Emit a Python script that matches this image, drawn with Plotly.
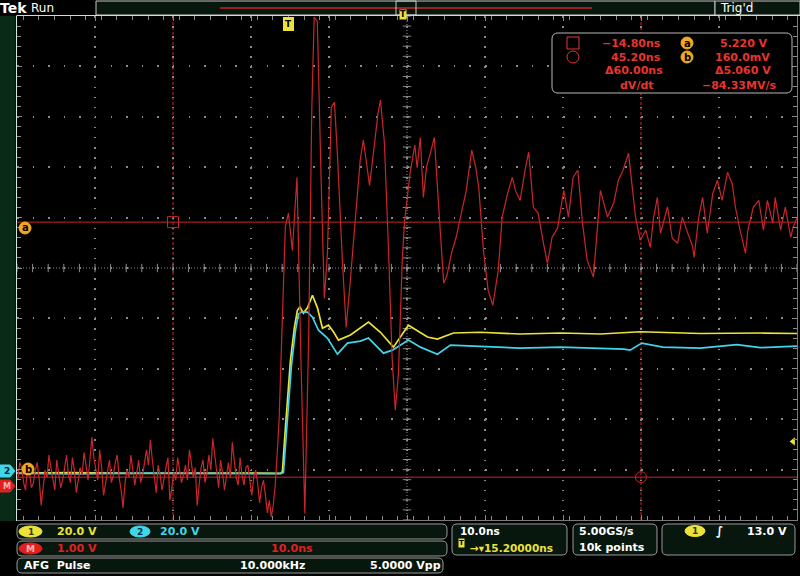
import numpy as np
import plotly.graph_objects as go

FONT = "DejaVu Sans"

# scope settings
ns_per_div = 10.0
trig_delay = 15.2      # ns, trigger -> screen centre
ch_scale = 20.0        # V/div, ch1 and ch2
m_scale = 1.0          # V/div, math
ch_offset = -4.09      # div, ground of ch1/ch2
m_offset = -4.31       # div, ground of M
trig_level = 13.0      # V on ch1

# math (red) trace, volts
red_pre_t0 = -34.7
red_pre_step = 0.25
red_pre_v = [0.10, 0.45, 0.35, 0.05, -0.10, 0.40, 0.25, -0.05, 0.05, 0.30,
             0.45, 0.10, -0.40, -0.05, 0.30, 0.15, 0.60, 0.35, 0.15, -0.10,
             0.50, 0.25, -0.05, 0.10, 0.40, 0.60, 0.20, 0.05, 0.55, 0.30,
             -0.15, 0.10, 0.35, 0.20, 0.65, 0.40, 0.10, 0.50, 0.95, 0.55,
             0.30, 0.10, 0.70, 0.35, -0.20, 0.05, 0.25, 0.50, 0.05, 0.20,
             0.45, 0.60, 0.15, -0.10, -0.45, 0.05, 0.30, 0.15, 0.60, 0.30,
             0.00, 0.25, 0.50, 0.05, 0.20, 0.45, 0.70, 0.40, 0.90, 0.50,
             0.10, -0.15, 0.40, 0.20, -0.10, 0.15, 0.35, 0.55, -0.30, -0.05,
             0.25, 0.10, 0.55, 0.30, 0.05, 0.20, 0.40, 0.10, 0.70, 0.45,
             0.15, 0.35, -0.40, 0.00, 0.35, 0.50, 0.05, 0.25, 0.60, 0.30,
             0.93, 0.60, 0.20, -0.05, 0.50, 0.25, -0.10, 0.20, 0.45, 0.15,
             0.85, 0.50, 0.15, 0.00, 0.55, 0.20, 0.00, 0.35, 0.40, 0.10,
             -0.20, 0.15, 0.30, 0.05, -0.35, -0.05, 0.10, -0.20, -0.55, -0.30,
             -0.63, -0.40, 0.00, 0.60, 1.30]
red_t = [-0.4, 0.0, 0.5, 1.1, 1.6, 2.1, 2.6, 3.0, 3.3, 3.7, 4.2, 4.6, 5.0, 5.5,
         5.9, 6.3, 6.9, 7.4, 7.9, 8.5, 9.2, 9.6, 10.1, 10.4, 10.9, 11.5, 11.8,
         12.3, 12.8, 13.3, 13.7, 14.1, 14.6, 14.9, 15.6, 16.2, 16.5, 16.9, 17.3,
         17.7, 18.3, 18.7, 19.4, 19.9, 20.3, 20.9, 21.5, 22.2, 22.8, 23.5, 24.0,
         24.4, 25.0, 25.6, 26.2, 26.9, 27.4, 28.1, 28.7, 29.1, 29.7, 30.4, 30.8,
         31.4, 32.0, 32.7, 33.2, 33.8, 34.5, 35.3, 35.9, 36.5, 37.1, 37.7, 38.3,
         39.1, 39.7, 40.0, 40.9, 41.7, 42.3, 42.9, 43.6, 44.1, 44.5, 45.1, 45.8,
         46.4, 46.8, 47.3, 47.7, 48.6, 49.2, 49.9, 50.5, 51.2, 51.8, 52.0, 52.6,
         53.1, 53.7, 54.4, 55.0, 55.6, 56.3, 56.9, 57.3, 57.9, 58.6, 58.9, 59.6,
         60.3, 60.9, 61.4, 62.1, 62.4, 63.1, 63.7, 64.4, 64.7, 65.2]
red_v = [5.12, 5.40, 4.66, 6.11, 2.50, -0.56, 3.00, 7.50, 9.29, 9.20, 6.00, 3.71,
         4.60, 7.50, 7.60, 6.50, 4.50, 3.13, 4.00, 5.20, 6.45, 6.85, 6.30, 5.95,
         6.60, 7.40, 7.64, 6.80, 4.80, 2.50, 1.49, 2.20, 4.50, 5.26, 6.20, 6.75,
         6.30, 6.90, 5.71, 6.31, 6.65, 6.90, 5.20, 4.01, 4.15, 4.60, 4.92, 5.46,
         5.85, 6.65, 6.31, 5.91, 4.66, 3.87, 3.57, 4.27, 5.32, 5.79, 6.11, 5.85,
         5.65, 6.31, 6.61, 5.52, 5.40, 4.80, 4.40, 4.92, 5.10, 5.85, 5.32, 6.11,
         6.25, 5.20, 4.46, 4.13, 5.26, 5.85, 5.32, 5.60, 6.05, 6.25, 6.59, 5.91,
         5.32, 4.86, 5.06, 4.72, 5.30, 5.71, 5.00, 5.52, 4.90, 4.80, 5.32, 5.00,
         4.75, 4.52, 5.32, 5.71, 5.00, 5.79, 6.05, 5.65, 6.21, 5.98, 5.52, 5.06,
         4.60, 5.06, 5.52, 5.65, 5.06, 5.65, 5.20, 5.71, 5.06, 5.52, 4.92, 5.12,
         5.30]

# channel 1 (yellow), volts
ch1_t = [-34.8, -28.0, -20.0, -12.0, -5.0, -1.0, -0.77, -0.38, 0.26, 0.77, 1.15,
         1.47, 1.92, 2.44, 3.08, 3.72, 4.36, 5.13, 5.77, 6.41, 7.95, 10.26, 11.79,
         13.46, 15.38, 17.82, 19.1, 21.15, 24.6, 29.7, 34.9, 40.0, 45.1, 52.8,
         60.5, 65.2]
ch1_v = [0.4, 0.6, 0.3, 0.5, 0.4, 0.3, 1.0, 18.7, 45.2, 58.3, 65.0, 66.3, 63.9,
         66.0, 71.0, 66.0, 57.9, 59.1, 56.5, 53.2, 55.2, 60.3, 56.3, 50.4, 59.1,
         54.4, 53.6, 56.0, 56.3, 55.6, 56.0, 55.6, 56.5, 55.8, 56.0, 55.8]

# channel 2 (cyan), volts
ch2_t = [-34.8, -27.0, -19.0, -11.0, -4.0, -1.0, -0.64, -0.26, 0.38, 0.90, 1.28,
         1.67, 2.44, 3.08, 3.85, 4.99, 6.28, 7.56, 9.23, 10.26, 12.18, 13.33,
         15.38, 16.92, 19.1, 20.77, 24.6, 29.7, 34.9, 43.0, 43.8, 45.3, 48.0,
         52.8, 57.5, 60.5, 65.2]
ch2_v = [0.3, 0.1, 0.4, 0.2, 0.3, 0.2, 0.6, 16.0, 43.0, 57.0, 63.5, 64.3, 64.3,
         62.3, 57.1, 54.0, 47.6, 52.0, 52.8, 54.0, 48.0, 49.2, 53.2, 50.4, 47.6,
         51.2, 50.6, 50.0, 50.4, 49.6, 49.2, 52.0, 50.4, 50.0, 51.4, 50.2, 50.8]

# cursors
cursor_t = [-14.80, 45.20]
cursor_v = [5.220, 0.160]

RED = "#c8262a"
RED_TXT = "#e8342e"
YEL = "#ece23a"
CYA = "#3fd6ea"
GRID = "#8a8a8a"
ORANGE = "#f2a825"
BOXFILL = "#08170e"
BOXLINE = "#9a9a9a"

x0 = trig_delay - 5 * ns_per_div
x1 = trig_delay + 5 * ns_per_div


def px(x):
    return (x - 17) / 780


def py(y):
    return (520 - y) / 504


shapes = []
annotations = []


def rbox(xa, ya, xb, yb, line=BOXLINE, fill=BOXFILL, r=5, layer="above"):
    rx = r / 780
    ry = r / 504
    a, b = px(xa), px(xb)
    top, bot = py(ya), py(yb)
    path = (f"M {a + rx},{top} L {b - rx},{top} Q {b},{top} {b},{top - ry} "
            f"L {b},{bot + ry} Q {b},{bot} {b - rx},{bot} L {a + rx},{bot} "
            f"Q {a},{bot} {a},{bot + ry} L {a},{top - ry} Q {a},{top} {a + rx},{top} Z")
    shapes.append(dict(type="path", xref="paper", yref="paper", path=path,
                       line=dict(color=line, width=1), fillcolor=fill, layer=layer))


def text(x, y, s, color, size=11, anchor="left", bold=False):
    if bold:
        s = f"<b>{s}</b>"
    annotations.append(dict(xref="paper", yref="paper", x=px(x), y=py(y), text=s,
                            showarrow=False, xanchor=anchor, yanchor="middle",
                            font=dict(color=color, size=size, family=FONT)))


def pill(xa, xb, yc, h, fill, label, fc, size=9):
    shapes.append(dict(type="circle", xref="paper", yref="paper",
                       x0=px(xa), x1=px(xb), y0=py(yc + h / 2), y1=py(yc - h / 2),
                       line=dict(color=fill, width=1), fillcolor=fill, layer="above"))
    text((xa + xb) / 2, yc, label, fc, size=size, anchor="center", bold=True)


fig = go.Figure()

# graticule centre ticks
centre_x = trig_delay + ns_per_div / 5 * np.arange(-25, 26)
centre_y = 0.2 * np.arange(-25, 26)
fig.add_trace(go.Scatter(x=centre_x, y=np.zeros_like(centre_x), mode="markers",
                         marker=dict(symbol="line-ns-open", size=6, color=GRID,
                                     line=dict(width=1, color=GRID)),
                         hoverinfo="skip"))
fig.add_trace(go.Scatter(x=np.full_like(centre_y, trig_delay), y=centre_y, mode="markers",
                         marker=dict(symbol="line-ew-open", size=6, color=GRID,
                                     line=dict(width=1, color=GRID)),
                         hoverinfo="skip"))

# waveforms
fig.add_trace(go.Scatter(x=ch1_t, y=ch_offset + np.array(ch1_v) / ch_scale, mode="lines",
                         line=dict(color=YEL, width=1.7), hoverinfo="skip"))
fig.add_trace(go.Scatter(x=ch2_t, y=ch_offset + np.array(ch2_v) / ch_scale, mode="lines",
                         line=dict(color=CYA, width=1.7), hoverinfo="skip"))
red_all_t = np.concatenate([red_pre_t0 + red_pre_step * np.arange(len(red_pre_v)), red_t])
red_all_v = np.concatenate([red_pre_v, red_v])
fig.add_trace(go.Scatter(x=red_all_t, y=m_offset + red_all_v / m_scale, mode="lines",
                         line=dict(color=RED, width=1.2), hoverinfo="skip"))

# cursors
cur_y = [m_offset + v / m_scale for v in cursor_v]
for t in cursor_t:
    shapes.append(dict(type="line", xref="x", yref="paper", x0=t, x1=t, y0=0, y1=1,
                       line=dict(color=RED, width=1, dash="3px,2px"), layer="below"))
for yv in cur_y:
    shapes.append(dict(type="line", xref="paper", yref="y", x0=0, x1=1, y0=yv, y1=yv,
                       line=dict(color=RED, width=1), layer="below"))
fig.add_trace(go.Scatter(x=cursor_t, y=cur_y, mode="markers",
                         marker=dict(symbol=["square-open", "circle-open"], size=11,
                                     color=RED, line=dict(width=1, color=RED)),
                         hoverinfo="skip"))

# centre crosshair
shapes.append(dict(type="line", xref="x", yref="paper", x0=trig_delay, x1=trig_delay,
                   y0=0, y1=1, line=dict(color=GRID, width=1, dash="1px,2px"), layer="below"))
shapes.append(dict(type="line", xref="paper", yref="y", x0=0, x1=1, y0=0, y1=0,
                   line=dict(color=GRID, width=1, dash="1px,2px"), layer="below"))

# trigger level arrow on right edge, T marker at top
fig.add_trace(go.Scatter(x=[x1 - 0.5], y=[ch_offset + trig_level / ch_scale], mode="markers",
                         marker=dict(symbol="triangle-left", size=7, color=YEL),
                         cliponaxis=False, hoverinfo="skip"))
annotations.append(dict(x=0, y=4.84, xref="x", yref="y", text="<b>T</b>", showarrow=False,
                        font=dict(color="#000000", size=9, family=FONT), bgcolor=YEL,
                        borderpad=1, bordercolor=YEL))

# left strip and channel tags
shapes.append(dict(type="rect", xref="paper", yref="paper", x0=px(0), x1=px(15.5),
                   y0=py(521), y1=py(16), fillcolor="#0a2a18", line=dict(width=0), layer="above"))
shapes.append(dict(type="line", xref="paper", yref="paper", x0=px(16.5), x1=px(16.5),
                   y0=py(521), y1=py(16), line=dict(color="#cfe8e0", width=1), layer="above"))
tag2 = f"M {px(0)},{py(465)} L {px(10)},{py(465)} L {px(15)},{py(471)} L {px(10)},{py(477)} L {px(0)},{py(477)} Z"
tagm = f"M {px(0)},{py(480)} L {px(10)},{py(480)} L {px(15)},{py(486)} L {px(10)},{py(492)} L {px(0)},{py(492)} Z"
shapes.append(dict(type="path", xref="paper", yref="paper", path=tag2, fillcolor=CYA,
                   line=dict(color=CYA, width=1), layer="above"))
shapes.append(dict(type="path", xref="paper", yref="paper", path=tagm, fillcolor="#e02020",
                   line=dict(color="#e02020", width=1), layer="above"))
text(7, 471, "2", "#002030", size=9, anchor="center", bold=True)
text(7, 486, "M", "#ffb0b0", size=8, anchor="center", bold=True)
pill(19, 31, 228, 12, ORANGE, "a", "#000000", size=10)
pill(22, 34, 469, 12, ORANGE, "b", "#000000", size=10)

# top bar
shapes.append(dict(type="rect", xref="paper", yref="paper", x0=px(96), x1=px(715),
                   y0=py(15), y1=py(1), fillcolor=BOXFILL, line=dict(color="#c8c8c8", width=1),
                   layer="above"))
shapes.append(dict(type="rect", xref="paper", yref="paper", x0=px(715), x1=px(800),
                   y0=py(15), y1=py(1), fillcolor=BOXFILL, line=dict(color="#c8c8c8", width=1),
                   layer="above"))
shapes.append(dict(type="line", xref="paper", yref="paper", x0=px(17), x1=px(800),
                   y0=py(15.5), y1=py(15.5), line=dict(color="#d8d8d8", width=1), layer="above"))
shapes.append(dict(type="line", xref="paper", yref="paper", x0=px(220), x1=px(592),
                   y0=py(8), y1=py(8), line=dict(color=RED, width=1.5), layer="above"))
shapes.append(dict(type="rect", xref="paper", yref="paper", x0=px(396), x1=px(416),
                   y0=py(15), y1=py(1), fillcolor="rgba(0,0,0,0)",
                   line=dict(color="#c8c8c8", width=1), layer="above"))
annotations.append(dict(xref="paper", yref="paper", x=px(403), y=py(9), text="<b>T</b>",
                        showarrow=False, font=dict(color="#000000", size=8, family=FONT),
                        bgcolor=YEL, borderpad=0))
shapes.append(dict(type="path", xref="paper", yref="paper",
                   path=f"M {px(399)},{py(15)} L {px(407)},{py(15)} L {px(403)},{py(19)} Z",
                   fillcolor=YEL, line=dict(color=YEL, width=0), layer="above"))
text(-2, 8, "Tek", "#ffffff", size=14, bold=True)
text(29, 8, "Run", "#ffffff", size=12)
text(718, 8, "Trig'd", "#ffffff", size=12)

# cursor readout
rbox(552, 33, 792, 93, line="#b8b8b8", fill="#000000", r=6)
shapes.append(dict(type="rect", xref="paper", yref="paper", x0=px(567), x1=px(579),
                   y0=py(49), y1=py(37), line=dict(color=RED_TXT, width=1),
                   fillcolor="rgba(0,0,0,0)", layer="above"))
shapes.append(dict(type="circle", xref="paper", yref="paper", x0=px(567), x1=px(579),
                   y0=py(63), y1=py(51), line=dict(color=RED_TXT, width=1),
                   fillcolor="rgba(0,0,0,0)", layer="above"))
pill(681, 693, 43, 12, ORANGE, "a", "#000000", size=10)
pill(681, 693, 57, 12, ORANGE, "b", "#000000", size=10)
text(663, 43, f"\u2212{abs(cursor_t[0]):.2f}ns", RED_TXT, anchor="right", bold=True)
text(663, 57, f"{cursor_t[1]:.2f}ns", RED_TXT, anchor="right", bold=True)
text(665, 71, f"\u0394{cursor_t[1] - cursor_t[0]:.2f}ns", RED_TXT, anchor="right", bold=True)
text(637, 86, "dV/dt", RED_TXT, anchor="center", bold=True)
text(718, 43, f"{cursor_v[0]:.3f} V", RED_TXT, bold=True)
text(713, 57, f"{cursor_v[1] * 1000:.1f}mV", RED_TXT, bold=True)
text(713, 71, f"\u0394{cursor_v[0] - cursor_v[1]:.3f} V", RED_TXT, bold=True)
text(700, 86, "\u221284.33MV/s", RED_TXT, bold=True)

# bottom status area
rbox(17, 524, 447, 539)
rbox(17, 541, 447, 556)
rbox(17, 558, 443, 573)
pill(19, 42, 531.5, 11, YEL, "1", "#403800")
text(55, 531.5, "20.0 V", YEL, bold=True)
pill(130, 150, 531.5, 11, CYA, "2", "#003040")
text(158, 531.5, "20.0 V", CYA, bold=True)
pill(19, 42, 548.5, 11, "#e02020", "M", "#ffb0b0")
text(55, 548.5, "1.00 V", "#e02020", bold=True)
text(292, 548.5, "10.0ns", "#e02020", anchor="center", bold=True)
text(22, 565.5, "AFG  Pulse", "#ffffff", bold=True)
text(272, 565.5, "10.000kHz", "#ffffff", anchor="center", bold=True)
text(443, 565.5, "5.0000 Vpp", "#ffffff", anchor="right", bold=True)

rbox(452, 524, 567, 555)
text(458, 531, "10.0ns", "#ffffff", size=10.5, bold=True)
annotations.append(dict(xref="paper", yref="paper", x=px(461), y=py(547.5), text="<b>T</b>",
                        showarrow=False, font=dict(color="#000000", size=7, family=FONT),
                        bgcolor=YEL, borderpad=0))
text(468, 547.5, "\u2192\u25be15.20000ns", YEL, size=10.5, bold=True)
rbox(573, 524, 657, 555)
text(577, 531, "5.00GS/s", "#ffffff", bold=True)
text(577, 547, "10k points", "#ffffff", bold=True)
rbox(662, 524, 795, 555)
pill(685, 705, 531, 11, YEL, "1", "#403800")
text(719, 531, "\u222b", "#ffffff", size=12, anchor="center", bold=True)
text(789, 531, "13.0 V", "#ffffff", anchor="right", bold=True)

fig.update_layout(
    width=800, height=576,
    margin=dict(l=17, r=3, t=16, b=56),
    paper_bgcolor="#000000", plot_bgcolor="#000000",
    showlegend=False,
    xaxis=dict(range=[x0, x1], tick0=trig_delay, dtick=ns_per_div, showgrid=True,
               gridcolor=GRID, gridwidth=1.5, griddash="1.5px,8.58px", zeroline=False,
               showticklabels=False, ticks="inside", ticklen=5, tickcolor=GRID,
               minor=dict(dtick=ns_per_div / 5, ticks="inside", ticklen=4, tickcolor=GRID,
                          showgrid=False),
               mirror="ticks", showline=True, linecolor="#7a7a7a", fixedrange=True),
    yaxis=dict(range=[-5, 5], dtick=1, tick0=0, showgrid=True, gridcolor=GRID, gridwidth=1.5,
               griddash="1.5px,14.1px", zeroline=False, showticklabels=False,
               ticks="inside", ticklen=5, tickcolor=GRID,
               minor=dict(dtick=0.2, ticks="inside", ticklen=4, tickcolor=GRID, showgrid=False),
               mirror="ticks", showline=True, linecolor="#7a7a7a", fixedrange=True),
    shapes=shapes,
    annotations=annotations,
)

fig.write_html("out.html", post_script="document.body.style.margin='0px';",
               config={"displayModeBar": False})
